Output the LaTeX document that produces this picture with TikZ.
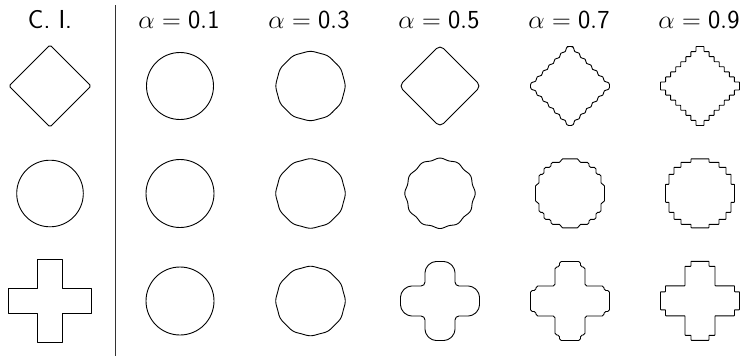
\RequirePackage{fix-cm}
\documentclass[tikz,border=0pt]{standalone}
\newcommand{\StairDiamond}[6]{%
  \pgfmathsetmacro{\sdstep}{(#3-#4)/#5}%
  \draw[shp, rounded corners=#6pt] (#1,#2-#3) -- ++(#4,0)
    \foreach \i in {1,...,#5}{ -- ++(0,\sdstep) -- ++(\sdstep,0) }
    -- ++(0,2*#4)
    \foreach \i in {1,...,#5}{ -- ++(-\sdstep,0) -- ++(0,\sdstep) }
    -- ++(-2*#4,0)
    \foreach \i in {1,...,#5}{ -- ++(0,-\sdstep) -- ++(-\sdstep,0) }
    -- ++(0,-2*#4)
    \foreach \i in {1,...,#5}{ -- ++(\sdstep,0) -- ++(0,-\sdstep) }
    -- cycle;}
\newcommand{\StairCircle}[3]{%
  \draw[shp, rounded corners=#3pt, shift={(#1,#2)}]
    (0,-34.5) -- (9,-34.5) -- (9,-31) -- (19,-31) -- (19,-26) -- (26,-26) -- (26,-19) -- (31,-19) -- (31,-9) -- (34.5,-9)
    -- (34.5,9) -- (31,9) -- (31,19) -- (26,19) -- (26,26) -- (19,26) -- (19,31) -- (9,31) -- (9,34.5)
    -- (-9,34.5) -- (-9,31) -- (-19,31) -- (-19,26) -- (-26,26) -- (-26,19) -- (-31,19) -- (-31,9) -- (-34.5,9)
    -- (-34.5,-9) -- (-31,-9) -- (-31,-19) -- (-26,-19) -- (-26,-26) -- (-19,-26) -- (-19,-31) -- (-9,-31) -- (-9,-34.5)
    -- cycle;}
\newcommand{\StairCross}[7]{%
  \draw[shp, rounded corners=#7pt, shift={(#1,#2)}]
    (0,-#3) -- (#5,-#3) -- (#5,-#3+#6) -- (#4,-#3+#6) -- (#4,-#4) -- (#3-#6,-#4) -- (#3-#6,-#5) -- (#3,-#5)
    -- (#3,#5) -- (#3-#6,#5) -- (#3-#6,#4) -- (#4,#4) -- (#4,#3-#6) -- (#5,#3-#6) -- (#5,#3)
    -- (-#5,#3) -- (-#5,#3-#6) -- (-#4,#3-#6) -- (-#4,#4) -- (-#3+#6,#4) -- (-#3+#6,#5) -- (-#3,#5)
    -- (-#3,-#5) -- (-#3+#6,-#5) -- (-#3+#6,-#4) -- (-#4,-#4) -- (-#4,-#3+#6) -- (-#5,-#3+#6) -- (-#5,-#3)
    -- cycle;}
\newcommand{\ChamCross}[7]{%
  \draw[shp, rounded corners=#7pt, shift={(#1,#2)}]
    (0,-#3) -- (#5,-#3) -- (#4,-#3+#6) -- (#4,-#4) -- (#3-#6,-#4) -- (#3,-#5)
    -- (#3,#5) -- (#3-#6,#4) -- (#4,#4) -- (#4,#3-#6) -- (#5,#3)
    -- (-#5,#3) -- (-#4,#3-#6) -- (-#4,#4) -- (-#3+#6,#4) -- (-#3,#5)
    -- (-#3,-#5) -- (-#3+#6,-#4) -- (-#4,-#4) -- (-#4,-#3+#6) -- (-#5,-#3)
    -- cycle;}
\newcommand{\PlainCross}[4]{%
  \draw[shp, shift={(#1,#2)}]
    (0,-#3) -- (#4,-#3) -- (#4,-#4) -- (#3,-#4) -- (#3,#4) -- (#4,#4) -- (#4,#3)
    -- (-#4,#3) -- (-#4,#4) -- (-#3,#4) -- (-#3,-#4) -- (-#4,-#4) -- (-#4,-#3) -- cycle;}
\newcommand{\WobCircle}[5]{%
  \draw[shp] plot[domain=0:360, samples=361, variable=\t]
    ({#1+(#3+#4*cos(#5*\t))*cos(\t)}, {#2+(#3+#4*cos(#5*\t))*sin(\t)}) -- cycle;}
\begin{document}
\begin{tikzpicture}[x=1pt,y=-1pt,
  shp/.style={draw=black, line width=0.9pt, line join=round},
  lbl/.style={anchor=base, inner sep=0pt, font=\fontsize{26}{30}\selectfont\sffamily}]
\useasboundingbox (0,0) rectangle (743,356);
% titles
\node[lbl] (tci) at (50,28) {C. I.};
\node[lbl] (ta1) at (179,28) {$\alpha = \mathsf{0.1}$};
\node[lbl] (ta3) at (309,28) {$\alpha = \mathsf{0.3}$};
\node[lbl] (ta5) at (439,28) {$\alpha = \mathsf{0.5}$};
\node[lbl] (ta7) at (569,28) {$\alpha = \mathsf{0.7}$};
\node[lbl] (ta9) at (699,28) {$\alpha = \mathsf{0.9}$};
% divider
\coordinate (dtop) at (115.5,5);
\coordinate (dbot) at (115.5,356);
\draw[line width=1pt, black!80] (dtop) -- (dbot);
% initial conditions
\draw[shp, rounded corners=1.5pt] (29.5,65.5) -- (50,45) -- (91,86) -- (50,127) -- (9,86) -- cycle;
\draw[shp] (50,193.5) circle[radius=33.3pt];
\PlainCross{50}{300.8}{41.7}{12.3}
% alpha = 0.1
\draw[shp] (180,86) circle[radius=33.5pt];
\draw[shp] (180,193.5) circle[radius=34pt];
\draw[shp] (180,301) circle[radius=34pt];
% alpha = 0.3
\WobCircle{310.5}{86}{34.3}{0.3}{12}
\WobCircle{310.5}{193.5}{34.4}{0.35}{12}
\WobCircle{310.5}{301}{34.4}{0.35}{12}
% alpha = 0.5
\draw[shp, rounded corners=5pt] (419.5,65.5) -- (440,45) -- (481,86) -- (440,127) -- (399,86) -- cycle;
\WobCircle{440}{193.3}{34.4}{0.8}{12}
\ChamCross{440}{301}{39.5}{15}{8}{7}{4}
% alpha = 0.7
\StairDiamond{570}{86}{39.5}{4}{6}{2.8}
\StairCircle{570}{193.3}{1.6}
\StairCross{570}{301}{39.5}{15}{10.5}{5.5}{1.8}
% alpha = 0.9
\StairDiamond{700}{86}{39.5}{4}{7}{0.5}
\StairCircle{700}{193.3}{0.5}
\StairCross{700}{300.8}{39.5}{15}{9}{5}{0.5}
\end{tikzpicture}
\end{document}
